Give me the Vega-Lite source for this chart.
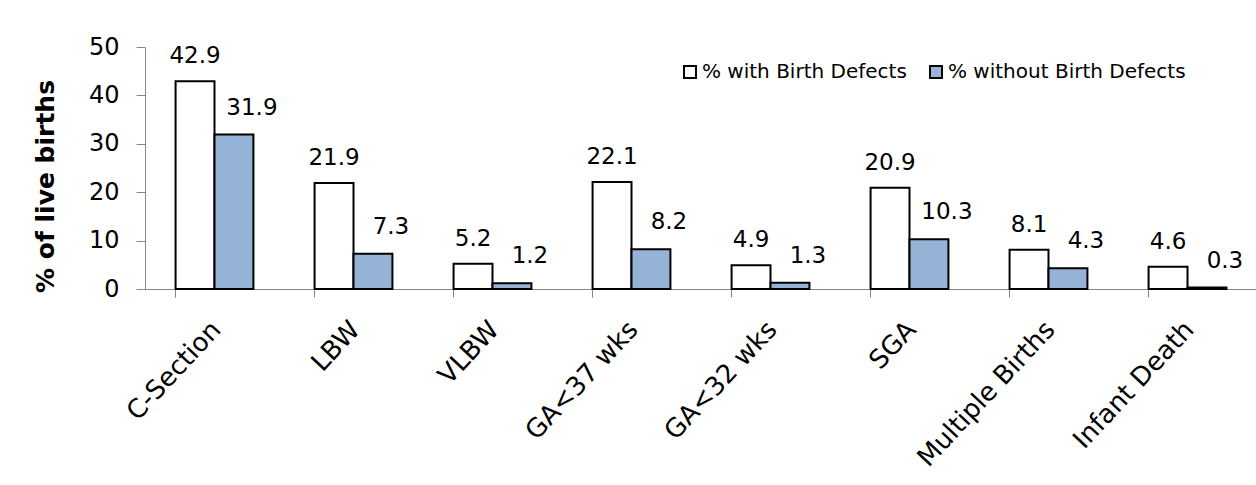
{
  "$schema": "https://vega.github.io/schema/vega-lite/v6.json",
  "width": 1112,
  "height": 242,
  "autosize": {"type": "none"},
  "padding": {"left": 145, "top": 47, "right": 0, "bottom": 196},
  "background": "white",
  "config": {"view": {"stroke": null}, "font": "DejaVu Sans"},
  "data": {
    "values": [
      {"measure": "C-Section", "group": "% with Birth Defects", "pct": 42.9},
      {"measure": "C-Section", "group": "% without Birth Defects", "pct": 31.9},
      {"measure": "LBW", "group": "% with Birth Defects", "pct": 21.9},
      {"measure": "LBW", "group": "% without Birth Defects", "pct": 7.3},
      {"measure": "VLBW", "group": "% with Birth Defects", "pct": 5.2},
      {"measure": "VLBW", "group": "% without Birth Defects", "pct": 1.2},
      {"measure": "GA<37 wks", "group": "% with Birth Defects", "pct": 22.1},
      {"measure": "GA<37 wks", "group": "% without Birth Defects", "pct": 8.2},
      {"measure": "GA<32 wks", "group": "% with Birth Defects", "pct": 4.9},
      {"measure": "GA<32 wks", "group": "% without Birth Defects", "pct": 1.3},
      {"measure": "SGA", "group": "% with Birth Defects", "pct": 20.9},
      {"measure": "SGA", "group": "% without Birth Defects", "pct": 10.3},
      {"measure": "Multiple Births", "group": "% with Birth Defects", "pct": 8.1},
      {"measure": "Multiple Births", "group": "% without Birth Defects", "pct": 4.3},
      {"measure": "Infant Death", "group": "% with Birth Defects", "pct": 4.6},
      {"measure": "Infant Death", "group": "% without Birth Defects", "pct": 0.3}
    ]
  },
  "encoding": {
    "x": {
      "field": "measure",
      "type": "nominal",
      "sort": null,
      "scale": {"paddingInner": 0.44, "paddingOuter": 0.22},
      "axis": {
        "title": null,
        "labelAngle": -47,
        "labelAlign": "right",
        "labelBaseline": "middle",
        "labelFontSize": 26,
        "labelColor": "black",
        "labelPadding": 28,
        "labelOffset": 2,
        "labelLimit": 0,
        "tickSize": 8,
        "bandPosition": 0,
        "domainColor": "#868686",
        "tickColor": "#868686"
      }
    },
    "xOffset": {
      "field": "group",
      "type": "nominal",
      "sort": ["% with Birth Defects", "% without Birth Defects"]
    },
    "y": {
      "field": "pct",
      "type": "quantitative",
      "scale": {"domain": [0, 50], "nice": false},
      "axis": {
        "title": "% of live births",
        "titleFontSize": 25,
        "titleFontWeight": "bold",
        "titleColor": "black",
        "titleAngle": -90,
        "titleAlign": "center",
        "titleBaseline": "alphabetic",
        "titleX": -92,
        "titleY": 139,
        "values": [0, 10, 20, 30, 40, 50],
        "labelFontSize": 24,
        "labelColor": "black",
        "labelPadding": 17,
        "tickSize": 9,
        "grid": false,
        "domainColor": "#868686",
        "tickColor": "#868686"
      }
    }
  },
  "layer": [
    {
      "mark": {"type": "bar", "stroke": "black", "strokeWidth": 2},
      "encoding": {
        "fill": {
          "field": "group",
          "type": "nominal",
          "scale": {
            "domain": ["% with Birth Defects", "% without Birth Defects"],
            "range": ["white", "#95B3D7"]
          },
          "legend": {
            "orient": "none",
            "legendX": 535,
            "legendY": 15,
            "direction": "horizontal",
            "title": null,
            "padding": 0,
            "symbolType": "square",
            "symbolSize": 144,
            "symbolStrokeColor": "black",
            "symbolStrokeWidth": 2,
            "labelFontSize": 20,
            "labelColor": "black",
            "labelOffset": 2,
            "labelLimit": 0,
            "columnPadding": 19
          }
        }
      }
    },
    {
      "transform": [{"filter": "datum.group === '% with Birth Defects'"}],
      "mark": {"type": "text", "baseline": "alphabetic", "dy": -18, "fontSize": 23, "color": "black"},
      "encoding": {"text": {"field": "pct", "type": "quantitative", "format": ".1f"}}
    },
    {
      "transform": [{"filter": "datum.group === '% without Birth Defects'"}],
      "mark": {"type": "text", "baseline": "alphabetic", "dy": -20, "dx": 18, "fontSize": 23, "color": "black"},
      "encoding": {"text": {"field": "pct", "type": "quantitative", "format": ".1f"}}
    }
  ]
}
